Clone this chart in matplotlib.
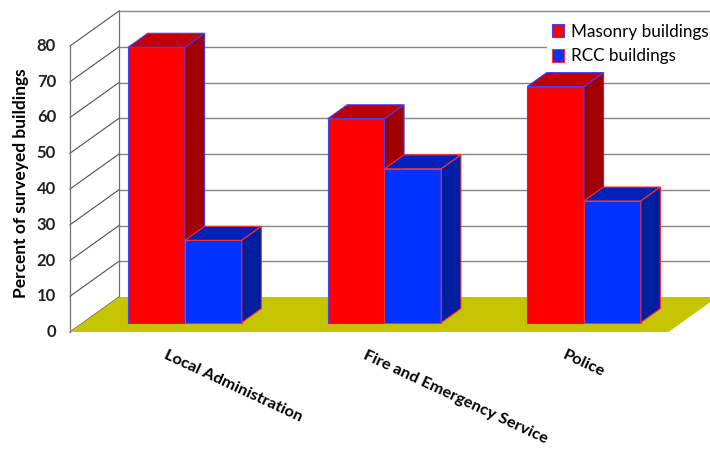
import matplotlib
matplotlib.use('Agg')
import matplotlib.pyplot as plt
from matplotlib.patches import Polygon, Patch

plt.rcParams['font.family'] = ['Lato', 'DejaVu Sans']

# data
categories = ['Local Administration', 'Fire and Emergency Service', 'Police']
masonry = [77, 57, 66]
rcc = [23, 43, 34]
series_names = ['Masonry buildings', 'RCC buildings']
yticks = [0, 10, 20, 30, 40, 50, 60, 70, 80]

# oblique projection: full depth of the box in data units
DX = 0.2456   # in category units
DY = 9.79     # in percent units


def P(x, y, d):
    # point (x, y) pushed back to depth d (0 = front, 1 = back wall)
    return (x + d * DX, y + d * DY)


def face(ax, pts, fc, ec, lw=0.8, z=3):
    ax.add_patch(Polygon(pts, closed=True, facecolor=fc, edgecolor=ec,
                         linewidth=lw, zorder=z, joinstyle='miter'))


def bar3d(ax, x0, x1, v, d0, d1, cols, ec):
    front, top, side = cols
    face(ax, [P(x0, 0, d0), P(x1, 0, d0), P(x1, v, d0), P(x0, v, d0)], front, ec)
    face(ax, [P(x0, v, d0), P(x1, v, d0), P(x1, v, d1), P(x0, v, d1)], top, ec)
    face(ax, [P(x1, 0, d0), P(x1, 0, d1), P(x1, v, d1), P(x1, v, d0)], side, ec)


fig = plt.figure(figsize=(7.1, 4.5), dpi=100)
ax = fig.add_axes([0, 0, 1, 1])
ax.set_xlim(-70 / 199.5, 640 / 199.5)
ax.set_ylim(-118 / 3.575, 332 / 3.575)
ax.axis('off')

ncat = len(categories)
top_v = yticks[-1]

# back wall gridlines
for v in yticks[1:]:
    xb, yb = P(0, v, 1)
    ax.plot([xb, 3.5], [yb, yb], color='#858585', lw=1.0, zorder=1)

# left wall
for v in yticks:
    xa, ya = P(0, v, 0)
    xb, yb = P(0, v, 1)
    ax.plot([xa, xb], [ya, yb], color='#505050', lw=0.8, zorder=1)
ax.plot([0, 0], [0, top_v], color='#707070', lw=0.9, zorder=1)
xb, yb = P(0, 0, 1)
ax.plot([xb, xb], [yb, yb + top_v], color='#707070', lw=0.9, zorder=1)

# floor
face(ax, [P(0, 0, 0), P(ncat, 0, 0), P(ncat, 0, 1), P(0, 0, 1)],
     '#c4c400', 'none', lw=0, z=2)

# tick labels
for v in yticks:
    ax.text(-0.07, v, str(v), ha='right', va='center', fontsize=12,
            fontweight='bold', color='#222222')

ax.text(-0.245, 41.5, 'Percent of surveyed buildings', rotation=90,
        ha='center', va='center', fontsize=12.5, fontweight='bold')

# bars
w = 0.285
d0, d1 = 0.27, 0.67
red_cols = ('#ff0000', '#c00000', '#a00000')
blue_cols = ('#0033ff', '#0022b8', '#001ea0')
for i in range(ncat):
    c = i + 0.5 + 0.01
    bar3d(ax, c - w, c, masonry[i], d0, d1, red_cols, '#4040ff')
    bar3d(ax, c, c + w, rcc[i], d0, d1, blue_cols, '#ff3030')
    ax.text(i + 0.49, -4.6, categories[i], rotation=-25, rotation_mode='anchor',
            ha='left', va='top', fontsize=11.8, fontweight='bold')

handles = [Patch(facecolor=red_cols[0], edgecolor='#4040ff', linewidth=0.8),
           Patch(facecolor=blue_cols[0], edgecolor='#ff3030', linewidth=0.8)]
leg = fig.legend(handles, series_names, loc='upper left',
                 bbox_to_anchor=(538 / 710, 1 - 10 / 450), fontsize=12.3,
                 handlelength=0.75, handleheight=0.75, handletextpad=0.4,
                 labelspacing=0.5, borderpad=0.3, frameon=True,
                 fancybox=False)
leg.get_frame().set_facecolor('white')
leg.get_frame().set_edgecolor('none')
leg.get_frame().set_alpha(1)

fig.savefig('out.png', dpi=100)
